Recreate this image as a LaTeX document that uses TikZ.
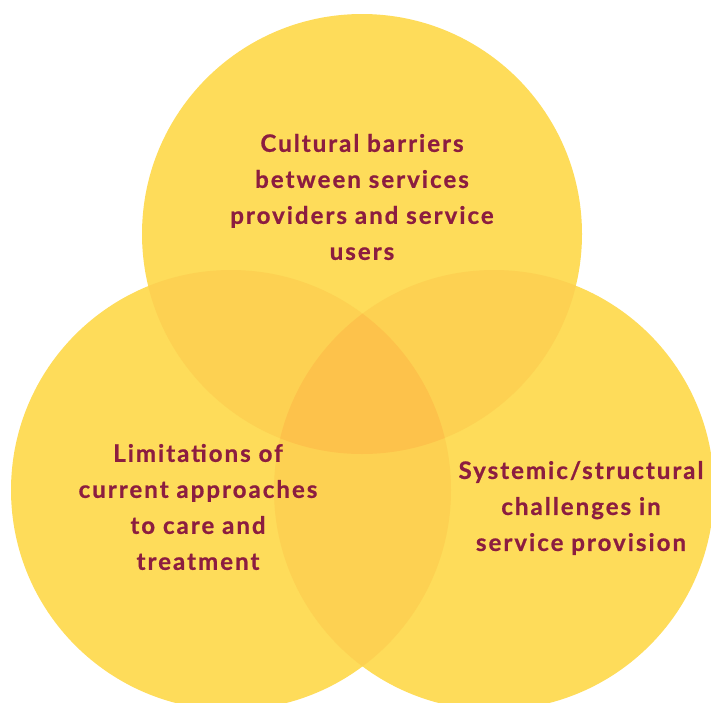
\documentclass[tikz,border=0pt]{standalone}
\usepackage{fontspec}
\setmainfont{Lato}[UprightFont=* Bold, LetterSpace=8.5, FakeBold=0.8]
\definecolor{ysingle}{HTML}{FEDC5A}
\definecolor{ydouble}{HTML}{FDD152}
\definecolor{ytriple}{HTML}{FDC24B}
\definecolor{txt}{HTML}{8C1D40}
\tikzset{
  lbl/.style={text=txt, align=center, font=\fontsize{24}{36}\selectfont, inner sep=0pt}
}
\begin{document}
\begin{tikzpicture}[x=1pt,y=-1pt]
\useasboundingbox (0,0) rectangle (711,702);
\clip (0,0) rectangle (711,702);
\coordinate (T) at (362,234);
\coordinate (L) at (231,490);
\coordinate (R) at (494,490);
\def\rr{220}
\fill[ysingle] (T) circle[radius=\rr];
\fill[ysingle] (L) circle[radius=\rr];
\fill[ysingle] (R) circle[radius=\rr];
\begin{scope}
  \clip (T) circle[radius=\rr];
  \fill[ydouble] (L) circle[radius=\rr];
  \fill[ydouble] (R) circle[radius=\rr];
\end{scope}
\begin{scope}
  \clip (L) circle[radius=\rr];
  \fill[ydouble] (R) circle[radius=\rr];
\end{scope}
\begin{scope}
  \clip (T) circle[radius=\rr];
  \clip (L) circle[radius=\rr];
  \fill[ytriple] (R) circle[radius=\rr];
\end{scope}
\node[lbl] (ttop) at (362,197) {Cultural barriers\\between services\\providers and service\\users};
\node[lbl] (tleft) at (198,507) {Limitations of\\current approaches\\to care and\\treatment};
\node[lbl] (tright) at (581,508) {Systemic/structural\\challenges in\\service provision};
\end{tikzpicture}
\end{document}
